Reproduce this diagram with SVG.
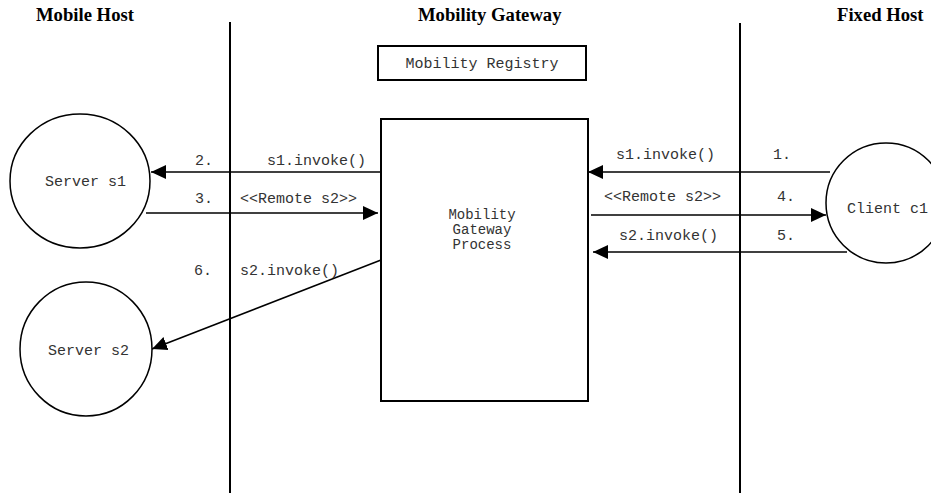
<svg xmlns="http://www.w3.org/2000/svg" width="931" height="493" viewBox="0 0 931 493">
<style>
.hdr{font-family:"Liberation Serif","Times New Roman",serif;font-weight:bold;font-size:18.67px;fill:#000}
.mono{font-family:"Liberation Mono","Courier New",monospace;font-size:15px;fill:#333}
.sm{font-size:14px}
.lane{stroke:#000;stroke-width:2;fill:none}
.box{stroke:#000;stroke-width:2;fill:#fff}
.node{stroke:#000;stroke-width:1.5;fill:#fff}
.conn{stroke:#000;stroke-width:1.5;fill:none;marker-end:url(#ah)}
</style>
<defs>
<marker id="ah" markerUnits="userSpaceOnUse" markerWidth="16" markerHeight="16" viewBox="0 0 16 16" refX="15" refY="8" orient="auto">
<path d="M0,1 L15,8 L0,15 Z" fill="#000"/>
</marker>
</defs>
<rect width="931" height="493" fill="#fff"/>
<g id="headers">
<text class="hdr" x="36" y="21">Mobile Host</text>
<text class="hdr" x="418" y="21">Mobility Gateway</text>
<text class="hdr" x="837" y="21">Fixed Host</text>
</g>
<g id="lanes">
<line class="lane" x1="230" y1="22" x2="230" y2="493"/>
<line class="lane" x1="740" y1="23" x2="740" y2="493"/>
</g>
<g id="registry">
<rect class="box" x="378" y="46" width="208" height="34"/>
<text class="mono" x="482" y="68" text-anchor="middle">Mobility Registry</text>
</g>
<g id="process">
<rect class="box" x="381" y="119" width="207" height="282"/>
<text class="mono sm" x="482" y="219" text-anchor="middle">Mobility</text>
<text class="mono sm" x="482" y="234" text-anchor="middle">Gateway</text>
<text class="mono sm" x="482" y="249" text-anchor="middle">Process</text>
</g>
<g id="server-s1">
<ellipse class="node" cx="80" cy="181" rx="70" ry="67"/>
<text class="mono" x="45" y="186">Server s1</text>
</g>
<g id="server-s2">
<ellipse class="node" cx="86" cy="349" rx="66" ry="67"/>
<text class="mono" x="48" y="355">Server s2</text>
</g>
<g id="client-c1">
<ellipse class="node" cx="886" cy="203" rx="60" ry="60"/>
<text class="mono" x="847" y="213">Client c1</text>
</g>
<g id="connectors">
<line class="conn" x1="381" y1="172" x2="151" y2="172"/>
<line class="conn" x1="146" y1="213" x2="378" y2="213"/>
<line class="conn" x1="381" y1="260" x2="152" y2="349"/>
<line class="conn" x1="830" y1="172" x2="588" y2="172"/>
<line class="conn" x1="591" y1="215" x2="826" y2="215"/>
<line class="conn" x1="847" y1="252" x2="593" y2="252"/>
<text class="mono" x="195" y="165">2.</text>
<text class="mono" x="267" y="165">s1.invoke()</text>
<text class="mono" x="195" y="203">3.</text>
<text class="mono" x="240" y="203">&lt;&lt;Remote s2&gt;&gt;</text>
<text class="mono" x="194" y="275">6.</text>
<text class="mono" x="240" y="275">s2.invoke()</text>
<text class="mono" x="616" y="159">s1.invoke()</text>
<text class="mono" x="773" y="159">1.</text>
<text class="mono" x="604" y="201">&lt;&lt;Remote s2&gt;&gt;</text>
<text class="mono" x="777" y="201">4.</text>
<text class="mono" x="619" y="240">s2.invoke()</text>
<text class="mono" x="777" y="240">5.</text>
</g>
</svg>
